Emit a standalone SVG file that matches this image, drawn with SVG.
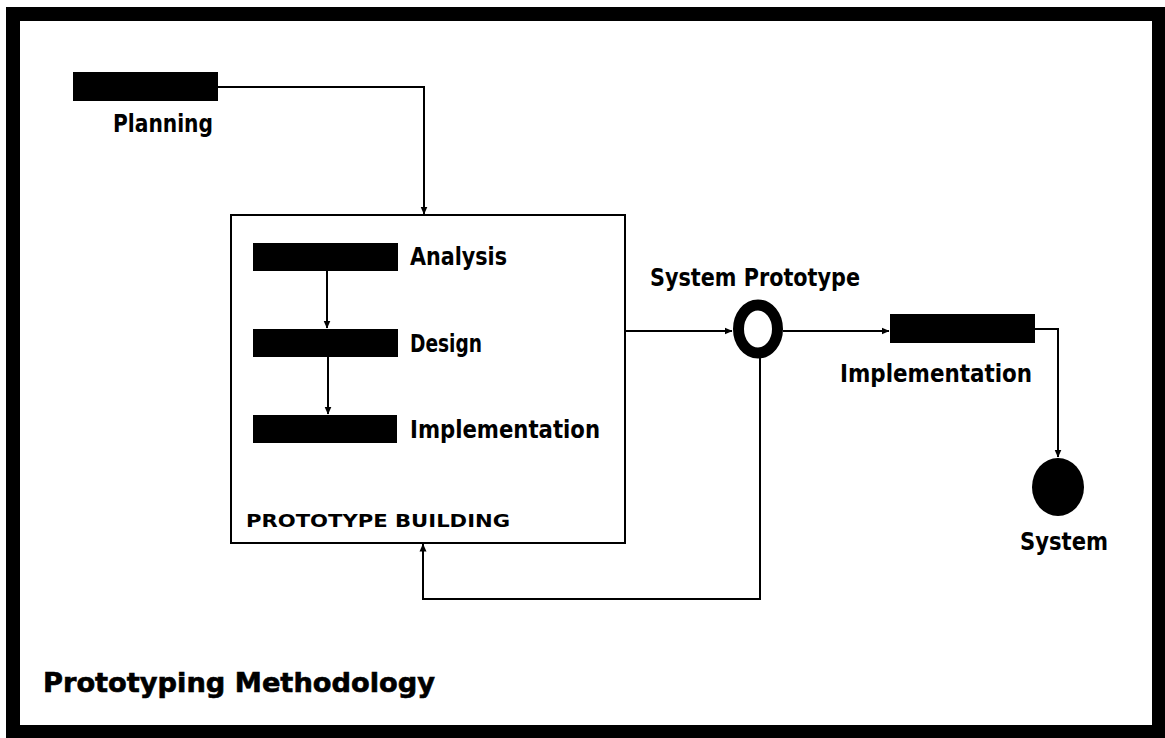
<svg xmlns="http://www.w3.org/2000/svg" width="1165" height="738" viewBox="0 0 1165 738">
  <style>
    .bar { fill: #000; }
    .lbl { font-family: "DejaVu Sans Condensed", "DejaVu Sans", sans-serif; font-weight: bold; font-size: 25px; fill: #000; }
    .cap { font-family: "DejaVu Sans", "Liberation Sans", sans-serif; font-weight: bold; font-size: 18px; fill: #000; }
    .title { font-family: "DejaVu Sans", "Liberation Sans", sans-serif; font-weight: bold; font-size: 26px; fill: #000; stroke: #000; stroke-width: 0.6; }
    .wire { fill: none; stroke: #000; stroke-width: 2; }
  </style>
  <defs>
    <marker id="arrow" viewBox="0 0 8 8" refX="7.5" refY="4" markerWidth="8" markerHeight="8" markerUnits="userSpaceOnUse" orient="auto">
      <path d="M0,0.5 L8,4 L0,7.5 Z" fill="#000"/>
    </marker>
  </defs>

  <!-- page background and heavy outer frame -->
  <rect x="0" y="0" width="1165" height="738" fill="#fff"/>
  <path d="M6,7 H1165 V738 H6 Z M20,21 V725 H1152 V21 Z" fill="#000" fill-rule="evenodd"/>

  <!-- planning phase -->
  <g id="planning">
    <rect class="bar" x="73" y="72" width="145" height="29"/>
    <text class="lbl" x="113" y="132" textLength="100" lengthAdjust="spacingAndGlyphs">Planning</text>
  </g>

  <!-- prototype building container -->
  <g id="prototype-building">
    <rect x="231" y="215" width="394" height="328" fill="#fff" stroke="#000" stroke-width="2"/>
    <text class="cap" x="246" y="527" textLength="264" lengthAdjust="spacingAndGlyphs">PROTOTYPE BUILDING</text>
  </g>

  <g id="analysis">
    <rect class="bar" x="253" y="243" width="145" height="28"/>
    <text class="lbl" x="410" y="265" textLength="97" lengthAdjust="spacingAndGlyphs">Analysis</text>
  </g>

  <g id="design">
    <rect class="bar" x="253" y="329" width="145" height="28"/>
    <text class="lbl" x="410" y="352" textLength="72" lengthAdjust="spacingAndGlyphs">Design</text>
  </g>

  <g id="implementation-inner">
    <rect class="bar" x="253" y="415" width="144" height="28"/>
    <text class="lbl" x="410" y="438" textLength="190" lengthAdjust="spacingAndGlyphs">Implementation</text>
  </g>

  <!-- system prototype milestone -->
  <g id="system-prototype">
    <ellipse cx="758" cy="329" rx="19.5" ry="24" fill="#fff" stroke="#000" stroke-width="11"/>
    <text class="lbl" x="650" y="286" textLength="210" lengthAdjust="spacingAndGlyphs">System Prototype</text>
  </g>

  <!-- final implementation -->
  <g id="implementation">
    <rect class="bar" x="890" y="314" width="145" height="29"/>
    <text class="lbl" x="840" y="382" textLength="192" lengthAdjust="spacingAndGlyphs">Implementation</text>
  </g>

  <!-- delivered system -->
  <g id="system">
    <ellipse cx="1058" cy="487" rx="26" ry="29" fill="#000"/>
    <text class="lbl" x="1020" y="550" textLength="88" lengthAdjust="spacingAndGlyphs">System</text>
  </g>

  <!-- connectors, drawn last so they sit above the container fill -->
  <g id="connectors">
    <path class="wire" d="M218,87 H424 V214" marker-end="url(#arrow)"/>
    <path class="wire" d="M327,271 V328" marker-end="url(#arrow)"/>
    <path class="wire" d="M328,357 V414" marker-end="url(#arrow)"/>
    <path class="wire" d="M625,331 H732" marker-end="url(#arrow)"/>
    <path class="wire" d="M783,331 H889" marker-end="url(#arrow)"/>
    <path class="wire" d="M760,358 V599 H423 V544" marker-end="url(#arrow)"/>
    <path class="wire" d="M1035,329 H1058 V457" marker-end="url(#arrow)"/>
  </g>

  <!-- title -->
  <g id="title">
    <text class="title" x="43" y="692" textLength="392" lengthAdjust="spacingAndGlyphs">Prototyping Methodology</text>
  </g>
</svg>
